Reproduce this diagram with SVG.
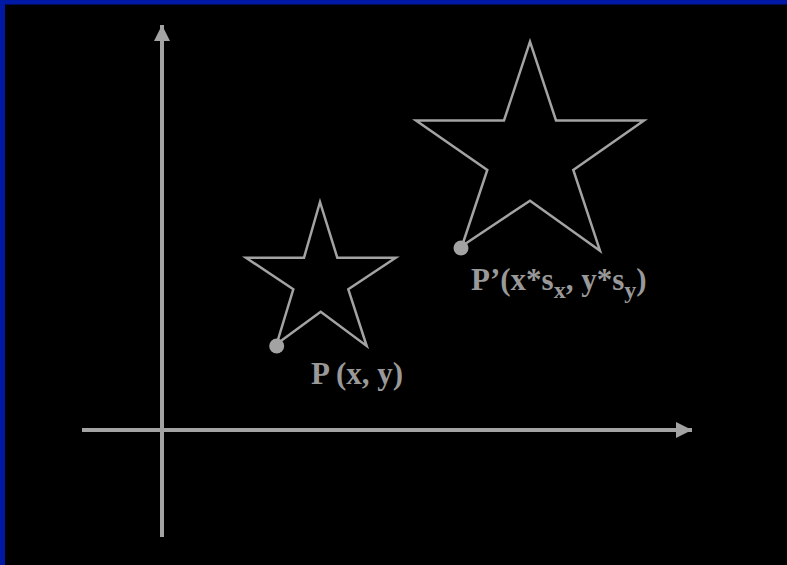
<svg xmlns="http://www.w3.org/2000/svg" width="787" height="565" viewBox="0 0 787 565">
<style>
.axis{stroke:#a3a3a3;stroke-width:4;fill:none}
.star{stroke:#a3a3a3;stroke-width:2.5;fill:none;stroke-linejoin:miter}
.dot{fill:#a3a3a3}
.lbl{font-family:"Liberation Serif","Times New Roman",serif;font-weight:bold;font-size:31px;fill:#999999}
.sub{font-size:24px}
</style>
<defs>
<marker id="ah" markerWidth="16" markerHeight="16" viewBox="0 0 16 16" refX="16" refY="8" orient="auto" markerUnits="userSpaceOnUse">
<path d="M0,0 L16,8 L0,16 Z" fill="#a3a3a3"/>
</marker>
</defs>
<rect x="0" y="0" width="787" height="565" fill="#000"/>
<rect x="0" y="0" width="787" height="4.5" fill="#0019a5"/>
<rect x="0" y="0" width="5" height="565" fill="#0019a5"/>
<g id="connectors">
<line class="axis" x1="162" y1="537" x2="162" y2="25" marker-end="url(#ah)"/>
<line class="axis" x1="82" y1="430" x2="692" y2="430" marker-end="url(#ah)"/>
</g>
<g id="star-small">
<polygon class="star" points="320,202 304,257.7 246,257.7 293.3,289.3 276.7,344 320.7,311.7 366.7,346 348.3,289.3 395.7,257.7 337.3,257.7"/>
<circle class="dot" cx="276.7" cy="346" r="7.5"/>
<text class="lbl" x="311" y="384">P (x, y)</text>
</g>
<g id="star-large">
<polygon class="star" points="530,41.7 504,120.5 416,120.5 487.3,170 462,246 530,200.7 600,250.7 573.3,170 644,120.5 556,120.5"/>
<circle class="dot" cx="461" cy="248" r="7.5"/>
<text class="lbl" x="471" y="290">P’(x*s<tspan class="sub" dy="8">x</tspan><tspan dy="-8">, y*s</tspan><tspan class="sub" dy="8">y</tspan><tspan dy="-8">)</tspan></text>
</g>
</svg>
